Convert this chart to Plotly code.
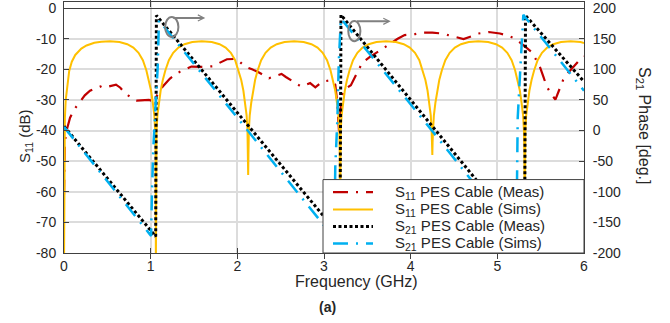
import plotly.graph_objects as go

# ---------------- data ----------------
# S11 PES Cable (Sims) [dB]
s11_sims_f = [0, 0.003, 0.01, 0.02, 0.04, 0.06, 0.09, 0.13, 0.2, 0.26, 0.35, 0.43, 0.53,
              0.64, 0.73, 0.80, 0.86, 0.91, 0.95, 0.98, 1.005, 1.025, 1.042, 1.052, 1.057, 1.06,
              1.063, 1.068, 1.078, 1.095, 1.115, 1.14, 1.17, 1.21, 1.26, 1.32, 1.39, 1.48, 1.59,
              1.705, 1.795, 1.865, 1.925, 1.975, 2.015, 2.045, 2.07, 2.09, 2.107, 2.117, 2.122, 2.125,
              2.128, 2.133, 2.143, 2.16, 2.18, 2.205, 2.235, 2.275, 2.325, 2.385, 2.455, 2.545, 2.655,
              2.765, 2.855, 2.925, 2.985, 3.035, 3.075, 3.105, 3.13, 3.15, 3.167, 3.177, 3.182, 3.185,
              3.188, 3.193, 3.203, 3.22, 3.24, 3.265, 3.295, 3.335, 3.385, 3.445, 3.515, 3.605, 3.717,
              3.83, 3.92, 3.99, 4.05, 4.10, 4.14, 4.17, 4.195, 4.215, 4.232, 4.242, 4.247, 4.25,
              4.253, 4.258, 4.268, 4.285, 4.305, 4.33, 4.36, 4.40, 4.45, 4.51, 4.58, 4.67, 4.78,
              4.895, 4.985, 5.055, 5.115, 5.165, 5.205, 5.235, 5.26, 5.28, 5.297, 5.307, 5.312, 5.315,
              5.318, 5.323, 5.333, 5.35, 5.37, 5.395, 5.425, 5.465, 5.515, 5.575, 5.645, 5.735, 5.845,
              5.96, 6.0]
s11_sims_db = [-85, -45, -36, -30, -24, -20.5, -17.5, -15.3, -13.2, -12.2, -11.3, -10.95, -10.8,
               -11.1, -11.8, -12.9, -14.6, -17.0, -20.3, -23.5, -27, -31, -35, -40, -48, -85,
               -48, -40, -35, -31, -27, -23.5, -20.3, -17.0, -14.6, -12.9, -11.8, -11.1, -10.8,
               -11.1, -11.8, -12.9, -14.6, -17.0, -20.3, -23.5, -27, -31, -35, -40, -48, -54.5,
               -48, -40, -35, -31, -27, -23.5, -20.3, -17.0, -14.6, -12.9, -11.8, -11.1, -10.8,
               -11.1, -11.8, -12.9, -14.6, -17.0, -20.3, -23.5, -27, -31, -35, -40, -48, -85,
               -48, -40, -35, -31, -27, -23.5, -20.3, -17.0, -14.6, -12.9, -11.8, -11.1, -10.8,
               -11.1, -11.8, -12.9, -14.6, -17.0, -20.3, -23.5, -27, -31, -35, -40, -44, -48,
               -44, -40, -35, -31, -27, -23.5, -20.3, -17.0, -14.6, -12.9, -11.8, -11.1, -10.8,
               -11.1, -11.8, -12.9, -14.6, -17.0, -20.3, -23.5, -27, -31, -35, -40, -48, -85,
               -48, -40, -35, -31, -27, -23.5, -20.3, -17.0, -14.6, -12.9, -11.8, -11.1, -10.8,
               -11.1, -11.4]

# S11 PES Cable (Meas) [dB]
s11_meas_f = [0, 0.004, 0.01, 0.025, 0.045, 0.07, 0.12, 0.185, 0.24, 0.30, 0.34, 0.38, 0.42, 0.45,
              0.49, 0.55, 0.60, 0.65, 0.685, 0.74, 0.80, 0.84, 0.93, 0.98, 1.03, 1.08, 1.14, 1.22,
              1.30, 1.40, 1.47, 1.60, 1.72, 1.80, 1.88, 1.99, 2.05, 2.09, 2.17, 2.24, 2.365, 2.47,
              2.51, 2.56, 2.63, 2.735, 2.84, 2.90, 2.98, 3.05, 3.10, 3.13, 3.15, 3.165, 3.175,
              3.185, 3.20, 3.24, 3.27, 3.31, 3.37, 3.43, 3.48, 3.53, 3.67, 3.76, 3.85, 3.93, 4.05,
              4.13, 4.25, 4.36, 4.48, 4.61, 4.70, 4.78, 4.90, 5.03, 5.12, 5.20, 5.30, 5.39, 5.44,
              5.49, 5.53, 5.57, 5.62, 5.67, 5.71, 5.76, 5.82, 5.88, 5.95, 6.0]
s11_meas_db = [-61, -50, -44, -40.5, -38, -35.8, -33, -30.4, -28.5, -27.0, -26.4, -26.0, -25.6, -26.0,
               -25.8, -25.3, -25.0, -26.0, -27.2, -28.5, -29.8, -30.2, -30.2, -30.0, -30.4, -28.0, -25.6, -23.1,
               -21.3, -20.0, -19.1, -19.2, -19.0, -17.8, -16.7, -16.6, -18.0, -19.1, -20.0, -20.9, -22.9, -21.8,
               -21.5, -22.5, -23.7, -25.6, -24.5, -25.9, -24.0, -23.7, -23.8, -25.0, -30.0, -38.0, -41.0,
               -36.0, -29.0, -26.5, -26.0, -25.2, -21.8, -18.5, -17.0, -15.9, -13.4, -11.6, -10.0, -8.8, -8.5,
               -8.0, -8.0, -8.3, -9.2, -10.1, -9.2, -8.3, -7.8, -8.3, -9.0, -9.9, -12.1, -14.2, -16.5,
               -19.1, -22.3, -25.6, -28.0, -29.9, -27.0, -23.4, -21.0, -19.1, -16.9, -15.8]

# S21 PES Cable (Meas) phase [deg]
s21_meas_f = [0, 0.5, 1.058, 1.066, 2.0, 3.185, 3.196, 4.28, 5.315, 5.325, 6.0]
s21_meas_deg = [7, -78, -173, 188, 29, -172, 189, 2, -177, 188, 80]

# S21 PES Cable (Sims) phase [deg]
s21_sims_f = [0, 0.5, 0.99, 1.005, 1.015, 1.03, 1.06, 1.08, 1.096, 1.9, 2.98, 3.12, 3.13, 3.155,
              3.17, 3.195, 4.2, 4.55, 5.22, 5.23, 5.235, 5.265, 5.285, 5.30, 5.6, 6.0]
s21_sims_deg = [6, -82, -168, -172, -100, -30, 50, 100, 180, 39, -150, -176, -60, 20,
                110, 183, 8, -54, -175, -60, 20, 100, 150, 189, 136, 65]

x_ticks = [0, 1, 2, 3, 4, 5, 6]
y_ticks = [-80, -70, -60, -50, -40, -30, -20, -10, 0]
y2_ticks = [-200, -150, -100, -50, 0, 50, 100, 150, 200]

legend_labels = ["S<sub>11</sub> PES Cable (Meas)", "S<sub>11</sub> PES Cable (Sims)",
                 "S<sub>21</sub> PES Cable (Meas)", "S<sub>21</sub> PES Cable (Sims)"]

# ---------------- styling ----------------
W, H = 670, 323
PL, PR, PT, PB = 64, 584, 0, 253
RED, GOLD, BLACK, CYAN = "#C00000", "#FFC000", "#000000", "#00B0F0"
DASHDOT = "15px,8px,2px,8px"
FONT = "Liberation Sans, Arial, sans-serif"
TXT = "#262626"
AX = "#404040"

styles = [dict(color=RED, width=2.2, dash=DASHDOT),
          dict(color=GOLD, width=2, dash="solid"),
          dict(color=BLACK, width=3, dash="3px,2.5px"),
          dict(color=CYAN, width=2.5, dash=DASHDOT)]


def pxx(x):
    return (x - PL) / (PR - PL)


def pxy(y):
    return (PB - y) / (PB - PT)


fig = go.Figure()
fig.add_trace(go.Scatter(x=s11_meas_f, y=s11_meas_db, mode="lines", line=styles[0], name=legend_labels[0]))
fig.add_trace(go.Scatter(x=s11_sims_f, y=s11_sims_db, mode="lines", line=styles[1], name=legend_labels[1]))
fig.add_trace(go.Scatter(x=s21_meas_f, y=s21_meas_deg, mode="lines", line=styles[2], yaxis="y2",
                         name=legend_labels[2]))
fig.add_trace(go.Scatter(x=s21_sims_f, y=s21_sims_deg, mode="lines", line=styles[3], yaxis="y2",
                         name=legend_labels[3]))

shapes = []
annotations = []

# dark vertical line at 3 GHz and darker -70 dB line seen in the reference
shapes.append(dict(type="line", xref="x", yref="paper", x0=3, x1=3, y0=0, y1=1,
                   line=dict(color="#303030", width=1.3), layer="between"))
shapes.append(dict(type="line", xref="paper", yref="y", x0=0, x1=1, y0=-70, y1=-70,
                   line=dict(color="#8c8c8c", width=1), layer="between"))

# ellipse markers with arrows pointing right (to the phase axis)
shapes.append(dict(type="circle", xref="x", yref="y", x0=1.167, x1=1.32, y0=-9.4, y1=-2.9,
                   line=dict(color="#808080", width=2), layer="above"))
shapes.append(dict(type="circle", xref="x", yref="y", x0=3.28, x1=3.42, y0=-10.8, y1=-4.2,
                   line=dict(color="#808080", width=2), layer="above"))
annotations.append(dict(x=1.63, y=-3.2, ax=1.243, ay=-3.2, xref="x", yref="y", axref="x", ayref="y",
                        text="", showarrow=True, arrowhead=5, arrowsize=0.6, arrowwidth=2,
                        arrowcolor="#808080"))
annotations.append(dict(x=3.77, y=-4.3, ax=3.363, ay=-4.3, xref="x", yref="y", axref="x", ayref="y",
                        text="", showarrow=True, arrowhead=5, arrowsize=0.6, arrowwidth=2,
                        arrowcolor="#808080"))

# legend box (manual)
shapes.append(dict(type="rect", xref="paper", yref="paper", x0=pxx(323), x1=pxx(584), y0=pxy(253),
                   y1=pxy(179), fillcolor="white", line=dict(color=AX, width=1), layer="above"))
row_y = [191.7, 209.2, 226.3, 243.3]
for i in range(4):
    shapes.append(dict(type="line", xref="paper", yref="paper", x0=pxx(333), x1=pxx(373),
                       y0=pxy(row_y[i]), y1=pxy(row_y[i]), line=styles[i], layer="above"))
    annotations.append(dict(x=pxx(393), y=pxy(row_y[i]), xref="paper", yref="paper", xanchor="left",
                            yanchor="middle", text=legend_labels[i], showarrow=False,
                            font=dict(size=15, color=TXT, family=FONT)))

# axis titles and caption
annotations.append(dict(x=pxx(356), y=pxy(282), xref="paper", yref="paper", text="Frequency (GHz)",
                        showarrow=False, xanchor="center", yanchor="middle",
                        font=dict(size=16, color=TXT, family=FONT)))
annotations.append(dict(x=pxx(26), y=pxy(136), xref="paper", yref="paper", text="S<sub>11</sub> (dB)",
                        showarrow=False, textangle=-90, xanchor="center", yanchor="middle",
                        font=dict(size=15, color=TXT, family=FONT)))
annotations.append(dict(x=pxx(644), y=pxy(124), xref="paper", yref="paper",
                        text="S<sub>21</sub> Phase [deg.]", showarrow=False, textangle=90,
                        xanchor="center", yanchor="middle", font=dict(size=16, color=TXT, family=FONT)))
annotations.append(dict(x=pxx(327), y=pxy(307), xref="paper", yref="paper", text="<b>(a)</b>",
                        showarrow=False, xanchor="center", yanchor="middle",
                        font=dict(size=14, color=TXT, family=FONT)))

fig.update_layout(
    width=W, height=H,
    margin=dict(l=PL, r=W - PR, t=PT, b=H - PB, pad=0),
    paper_bgcolor="white", plot_bgcolor="white",
    showlegend=False,
    font=dict(family=FONT, size=14, color=TXT),
    xaxis=dict(range=[0, 6], tickvals=x_ticks, ticktext=[str(v) for v in x_ticks],
               ticks="inside", ticklen=5, tickcolor=AX, showline=True, linecolor=AX, linewidth=1,
               mirror="allticks", showgrid=True, gridcolor="#dcdcdc", gridwidth=1.5, zeroline=False,
               tickfont=dict(size=14, color=TXT), ticklabelstandoff=0),
    yaxis=dict(range=[-80, 2], tickvals=y_ticks, ticktext=[str(v) for v in y_ticks],
               ticks="inside", ticklen=5, tickcolor=AX, showline=True, linecolor=AX, linewidth=1,
               mirror=True, showgrid=True, gridcolor="#dcdcdc", gridwidth=1.5,
               zeroline=True, zerolinecolor=AX, zerolinewidth=1, ticklabeloverflow="allow",
               tickfont=dict(size=14, color=TXT), ticklabelstandoff=4),
    yaxis2=dict(range=[-200, 210], tickvals=y2_ticks, ticktext=[str(v) for v in y2_ticks],
                overlaying="y", side="right", anchor="x",
                ticks="inside", ticklen=5, tickcolor=AX, showline=True, linecolor=AX, linewidth=1,
                showgrid=False, zeroline=False, tickfont=dict(size=14, color=TXT),
                ticklabelstandoff=5, ticklabeloverflow="allow"),
    shapes=shapes,
    annotations=annotations,
)

fig.write_html("out.html")
